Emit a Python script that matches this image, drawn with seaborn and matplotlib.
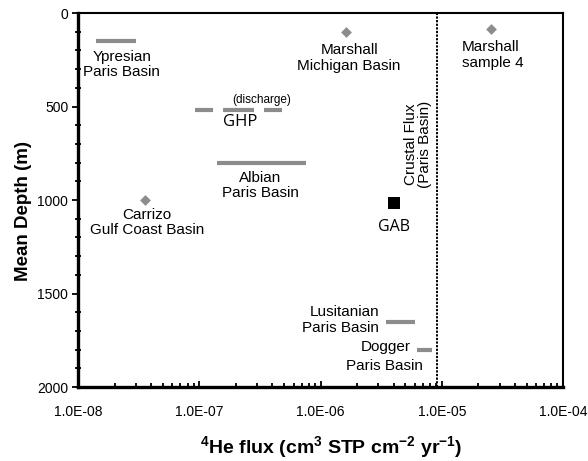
import matplotlib
matplotlib.use("Agg")
import matplotlib.pyplot as plt
import matplotlib.ticker as mticker
import seaborn as sns
import pandas as pd
import numpy as np

sns.set_style("ticks")
plt.rcParams['font.family'] = ['Liberation Sans', 'DejaVu Sans']
plt.rcParams['mathtext.fontset'] = 'custom'
plt.rcParams['mathtext.rm'] = 'Liberation Sans:bold'
plt.rcParams['mathtext.bf'] = 'Liberation Sans:bold'
plt.rcParams['mathtext.it'] = 'Liberation Sans:bold'
plt.rcParams['lines.scale_dashes'] = False
plt.rcParams['text.color'] = 'black'
plt.rcParams['axes.labelcolor'] = 'black'
plt.rcParams['xtick.color'] = 'black'
plt.rcParams['ytick.color'] = 'black'

# ---- data ----
bar_names = ["Ypresian", "Albian", "Lusitanian", "Dogger"]
bar_depth = [150, 800, 1650, 1800]
bar_xmin = [1.4e-8, 1.4e-7, 3.5e-6, 6.3e-6]
bar_xmax = [3.0e-8, 7.6e-7, 6.0e-6, 8.3e-6]

ghp_depth = 520
ghp_xmin = 9.2e-8
ghp_xmax = 4.8e-7

pt_names = ["Marshall Michigan", "Carrizo", "Marshall sample 4"]
pt_flux = [1.62e-6, 3.6e-8, 2.55e-5]
pt_depth = [100, 1000, 85]

gab_flux = [4.0e-6]
gab_depth = [1015]

crustal_flux = 9.1e-6

xticks = [1e-8, 1e-7, 1e-6, 1e-5, 1e-4]
xticklabels = ["1.0E-08", "1.0E-07", "1.0E-06", "1.0E-05", "1.0E-04"]
yticks = [0, 500, 1000, 1500, 2000]

grey = "#8c8c8c"

fig = plt.figure(figsize=(5.88, 4.61), dpi=100)
ax = fig.add_axes([0.1327, 0.1605, 0.9575 - 0.1327, 0.9718 - 0.1605])

# bars
ax.hlines(bar_depth, bar_xmin, bar_xmax, colors=grey, linewidth=3.0)
# GHP dashed
ax.plot([ghp_xmin, ghp_xmax], [ghp_depth, ghp_depth], color=grey, linewidth=3.0,
        linestyle=(0, (13, 7.2, 22.3, 7.2)), solid_capstyle='butt', dash_capstyle='butt')

pts = pd.DataFrame({"flux": pt_flux, "depth": pt_depth, "name": pt_names})
sns.scatterplot(data=pts, x="flux", y="depth", marker="D", s=30, color=grey,
                edgecolor=grey, linewidth=0, ax=ax, zorder=3)
gab = pd.DataFrame({"flux": gab_flux, "depth": gab_depth})
sns.scatterplot(data=gab, x="flux", y="depth", marker="s", s=75, color="black",
                edgecolor="black", linewidth=0, ax=ax, zorder=3)

ax.axvline(crustal_flux, color="black", linestyle=(0, (1.6, 1.0)), linewidth=1.4)

ax.set_xscale("log")
ax.set_xlim(1e-8, 1e-4)
ax.set_ylim(2000, 0)
ax.set_xticks(xticks)
ax.set_xticklabels(xticklabels)
ax.xaxis.set_minor_locator(mticker.LogLocator(base=10, subs=np.arange(2, 10)))
ax.xaxis.set_minor_formatter(mticker.NullFormatter())
ax.set_yticks(yticks)
ax.yaxis.set_minor_locator(mticker.MultipleLocator(100))

ax.tick_params(axis='both', which='major', labelsize=10, color='black', labelcolor='black')
ax.tick_params(axis='x', which='major', direction='in', length=4, width=1.3, pad=13)
ax.tick_params(axis='x', which='minor', direction='in', length=3, width=1.3)
ax.tick_params(axis='y', which='major', direction='out', length=4, width=1.3, pad=3)
ax.tick_params(axis='y', which='minor', direction='inout', length=5, width=1.3)

for side in ["left", "bottom"]:
    ax.spines[side].set_linewidth(2.4)
for side in ["top", "right"]:
    ax.spines[side].set_linewidth(1.5)
for s in ax.spines.values():
    s.set_color("black")

ax.set_xlabel(r"$^{4}$He flux (cm$^{3}$ STP cm$^{-2}$ yr$^{-1}$)",
              fontsize=14, fontweight="bold", labelpad=11)
ax.xaxis.label.set_x(0.522)
ax.set_ylabel("Mean Depth (m)", fontsize=13.5, fontweight="bold", labelpad=4)
ax.yaxis.label.set_y(0.47)

fs = 11
ax.text(2.3e-8, 275, "Ypresian\nParis Basin", ha="center", va="center", fontsize=fs, linespacing=1.15)
ax.text(1.72e-6, 240, "Marshall\nMichigan Basin", ha="center", va="center", fontsize=fs, linespacing=1.15)
ax.text(1.47e-5, 225, "Marshall\nsample 4", ha="left", va="center", fontsize=fs, linespacing=1.15)
ax.text(3.3e-7, 465, "(discharge)", ha="center", va="center", fontsize=8.5)
ax.text(2.17e-7, 585, "GHP", ha="center", va="center", fontsize=12, family=["Open Sans", "DejaVu Sans"])
ax.text(3.2e-7, 922, "Albian\nParis Basin", ha="center", va="center", fontsize=fs, linespacing=1.15)
ax.text(3.7e-8, 1120, "Carrizo\nGulf Coast Basin", ha="center", va="center", fontsize=fs, linespacing=1.15)
ax.text(6.4e-6, 700, "Crustal Flux\n(Paris Basin)", ha="center", va="center", rotation=90,
        fontsize=fs, linespacing=1.0)
ax.text(4.0e-6, 1145, "GAB", ha="center", va="center", fontsize=11.5, family=["Open Sans", "DejaVu Sans"])
ax.text(3.03e-6, 1640, "Lusitanian\nParis Basin", ha="right", va="center", fontsize=fs, linespacing=1.15)
ax.text(5.5e-6, 1786, "Dogger", ha="right", va="center", fontsize=fs)
ax.text(7.0e-6, 1888, "Paris Basin", ha="right", va="center", fontsize=fs)

fig.savefig("out.png", dpi=100)
